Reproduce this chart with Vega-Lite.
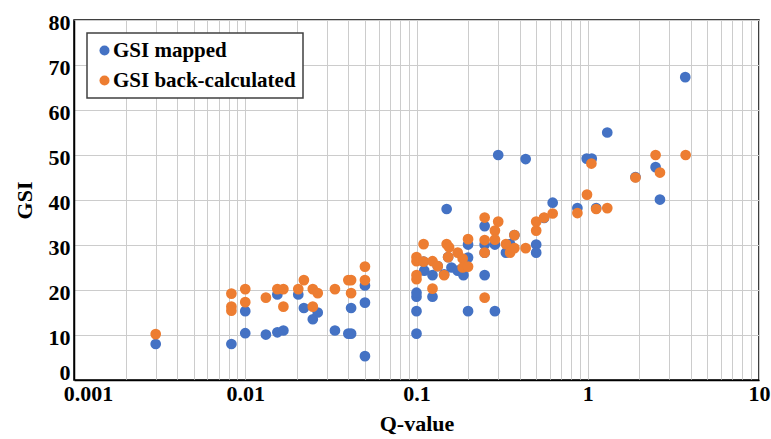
{
  "$schema": "https://vega.github.io/schema/vega-lite/v6.json",
  "width": 685,
  "height": 360,
  "padding": {"left": 74, "top": 20, "right": 12, "bottom": 59},
  "autosize": {"type": "none"},
  "background": "#ffffff",
  "config": {
    "view": {"stroke": "#000000", "strokeWidth": 1.5},
    "font": "Liberation Serif"
  },
  "data": {
    "values": [
      {"q": 0.003, "gsi": 8, "series": "GSI mapped"},
      {"q": 0.0083, "gsi": 8, "series": "GSI mapped"},
      {"q": 0.01, "gsi": 15.3, "series": "GSI mapped"},
      {"q": 0.01, "gsi": 10.4, "series": "GSI mapped"},
      {"q": 0.0132, "gsi": 10.1, "series": "GSI mapped"},
      {"q": 0.0154, "gsi": 19, "series": "GSI mapped"},
      {"q": 0.0154, "gsi": 10.6, "series": "GSI mapped"},
      {"q": 0.0167, "gsi": 11, "series": "GSI mapped"},
      {"q": 0.0204, "gsi": 19, "series": "GSI mapped"},
      {"q": 0.022, "gsi": 16, "series": "GSI mapped"},
      {"q": 0.0248, "gsi": 13.5, "series": "GSI mapped"},
      {"q": 0.0265, "gsi": 15, "series": "GSI mapped"},
      {"q": 0.0334, "gsi": 11, "series": "GSI mapped"},
      {"q": 0.0415, "gsi": 16, "series": "GSI mapped"},
      {"q": 0.04, "gsi": 10.3, "series": "GSI mapped"},
      {"q": 0.0415, "gsi": 10.3, "series": "GSI mapped"},
      {"q": 0.05, "gsi": 21, "series": "GSI mapped"},
      {"q": 0.05, "gsi": 17.2, "series": "GSI mapped"},
      {"q": 0.05, "gsi": 5.3, "series": "GSI mapped"},
      {"q": 0.1, "gsi": 10.3, "series": "GSI mapped"},
      {"q": 0.1, "gsi": 15.3, "series": "GSI mapped"},
      {"q": 0.1, "gsi": 18.5, "series": "GSI mapped"},
      {"q": 0.1, "gsi": 19.4, "series": "GSI mapped"},
      {"q": 0.11, "gsi": 26.3, "series": "GSI mapped"},
      {"q": 0.111, "gsi": 24.3, "series": "GSI mapped"},
      {"q": 0.124, "gsi": 23.3, "series": "GSI mapped"},
      {"q": 0.124, "gsi": 18.5, "series": "GSI mapped"},
      {"q": 0.133, "gsi": 25.3, "series": "GSI mapped"},
      {"q": 0.145, "gsi": 23.5, "series": "GSI mapped"},
      {"q": 0.15, "gsi": 38, "series": "GSI mapped"},
      {"q": 0.153, "gsi": 27.3, "series": "GSI mapped"},
      {"q": 0.16, "gsi": 25, "series": "GSI mapped"},
      {"q": 0.174, "gsi": 24.3, "series": "GSI mapped"},
      {"q": 0.188, "gsi": 23.3, "series": "GSI mapped"},
      {"q": 0.2, "gsi": 30.1, "series": "GSI mapped"},
      {"q": 0.2, "gsi": 27.2, "series": "GSI mapped"},
      {"q": 0.2, "gsi": 15.3, "series": "GSI mapped"},
      {"q": 0.25, "gsi": 34.2, "series": "GSI mapped"},
      {"q": 0.25, "gsi": 30.1, "series": "GSI mapped"},
      {"q": 0.25, "gsi": 28.3, "series": "GSI mapped"},
      {"q": 0.25, "gsi": 23.3, "series": "GSI mapped"},
      {"q": 0.287, "gsi": 30.1, "series": "GSI mapped"},
      {"q": 0.287, "gsi": 15.3, "series": "GSI mapped"},
      {"q": 0.3, "gsi": 50, "series": "GSI mapped"},
      {"q": 0.333, "gsi": 28.3, "series": "GSI mapped"},
      {"q": 0.352, "gsi": 30.2, "series": "GSI mapped"},
      {"q": 0.373, "gsi": 32.2, "series": "GSI mapped"},
      {"q": 0.434, "gsi": 49.1, "series": "GSI mapped"},
      {"q": 0.5, "gsi": 30.1, "series": "GSI mapped"},
      {"q": 0.5, "gsi": 28.3, "series": "GSI mapped"},
      {"q": 0.556, "gsi": 36, "series": "GSI mapped"},
      {"q": 0.624, "gsi": 39.4, "series": "GSI mapped"},
      {"q": 0.87, "gsi": 38.2, "series": "GSI mapped"},
      {"q": 0.986, "gsi": 49.2, "series": "GSI mapped"},
      {"q": 1.055, "gsi": 49.2, "series": "GSI mapped"},
      {"q": 1.12, "gsi": 38.2, "series": "GSI mapped"},
      {"q": 1.3, "gsi": 55, "series": "GSI mapped"},
      {"q": 1.9, "gsi": 45.1, "series": "GSI mapped"},
      {"q": 2.49, "gsi": 47.3, "series": "GSI mapped"},
      {"q": 2.64, "gsi": 40.1, "series": "GSI mapped"},
      {"q": 3.71, "gsi": 67.3, "series": "GSI mapped"},
      {"q": 0.003, "gsi": 10.2, "series": "GSI back-calculated"},
      {"q": 0.0083, "gsi": 19.2, "series": "GSI back-calculated"},
      {"q": 0.0083, "gsi": 16.3, "series": "GSI back-calculated"},
      {"q": 0.0083, "gsi": 15.4, "series": "GSI back-calculated"},
      {"q": 0.01, "gsi": 20.2, "series": "GSI back-calculated"},
      {"q": 0.01, "gsi": 17.3, "series": "GSI back-calculated"},
      {"q": 0.0132, "gsi": 18.3, "series": "GSI back-calculated"},
      {"q": 0.0154, "gsi": 20.2, "series": "GSI back-calculated"},
      {"q": 0.0167, "gsi": 20.2, "series": "GSI back-calculated"},
      {"q": 0.0167, "gsi": 16.3, "series": "GSI back-calculated"},
      {"q": 0.0204, "gsi": 20.2, "series": "GSI back-calculated"},
      {"q": 0.022, "gsi": 22.2, "series": "GSI back-calculated"},
      {"q": 0.0248, "gsi": 20.2, "series": "GSI back-calculated"},
      {"q": 0.0265, "gsi": 19.3, "series": "GSI back-calculated"},
      {"q": 0.0248, "gsi": 16.3, "series": "GSI back-calculated"},
      {"q": 0.0334, "gsi": 20.2, "series": "GSI back-calculated"},
      {"q": 0.04, "gsi": 22.2, "series": "GSI back-calculated"},
      {"q": 0.0415, "gsi": 22.2, "series": "GSI back-calculated"},
      {"q": 0.0415, "gsi": 19.3, "series": "GSI back-calculated"},
      {"q": 0.05, "gsi": 25.2, "series": "GSI back-calculated"},
      {"q": 0.05, "gsi": 22.2, "series": "GSI back-calculated"},
      {"q": 0.1, "gsi": 22.4, "series": "GSI back-calculated"},
      {"q": 0.1, "gsi": 23.3, "series": "GSI back-calculated"},
      {"q": 0.1, "gsi": 26.4, "series": "GSI back-calculated"},
      {"q": 0.1, "gsi": 27.3, "series": "GSI back-calculated"},
      {"q": 0.11, "gsi": 30.2, "series": "GSI back-calculated"},
      {"q": 0.11, "gsi": 26.3, "series": "GSI back-calculated"},
      {"q": 0.124, "gsi": 26.4, "series": "GSI back-calculated"},
      {"q": 0.124, "gsi": 20.3, "series": "GSI back-calculated"},
      {"q": 0.133, "gsi": 25.3, "series": "GSI back-calculated"},
      {"q": 0.145, "gsi": 23.3, "series": "GSI back-calculated"},
      {"q": 0.15, "gsi": 30.2, "series": "GSI back-calculated"},
      {"q": 0.155, "gsi": 29.5, "series": "GSI back-calculated"},
      {"q": 0.153, "gsi": 27.3, "series": "GSI back-calculated"},
      {"q": 0.174, "gsi": 28.3, "series": "GSI back-calculated"},
      {"q": 0.186, "gsi": 27, "series": "GSI back-calculated"},
      {"q": 0.186, "gsi": 25, "series": "GSI back-calculated"},
      {"q": 0.2, "gsi": 31.3, "series": "GSI back-calculated"},
      {"q": 0.2, "gsi": 25.2, "series": "GSI back-calculated"},
      {"q": 0.25, "gsi": 36.1, "series": "GSI back-calculated"},
      {"q": 0.25, "gsi": 31.1, "series": "GSI back-calculated"},
      {"q": 0.25, "gsi": 28.3, "series": "GSI back-calculated"},
      {"q": 0.25, "gsi": 18.3, "series": "GSI back-calculated"},
      {"q": 0.3, "gsi": 35.2, "series": "GSI back-calculated"},
      {"q": 0.287, "gsi": 33.2, "series": "GSI back-calculated"},
      {"q": 0.287, "gsi": 31.2, "series": "GSI back-calculated"},
      {"q": 0.333, "gsi": 30.2, "series": "GSI back-calculated"},
      {"q": 0.352, "gsi": 28.3, "series": "GSI back-calculated"},
      {"q": 0.373, "gsi": 32.2, "series": "GSI back-calculated"},
      {"q": 0.373, "gsi": 29.3, "series": "GSI back-calculated"},
      {"q": 0.434, "gsi": 29.3, "series": "GSI back-calculated"},
      {"q": 0.5, "gsi": 33.2, "series": "GSI back-calculated"},
      {"q": 0.5, "gsi": 35.2, "series": "GSI back-calculated"},
      {"q": 0.556, "gsi": 36.1, "series": "GSI back-calculated"},
      {"q": 0.624, "gsi": 37, "series": "GSI back-calculated"},
      {"q": 0.87, "gsi": 37.1, "series": "GSI back-calculated"},
      {"q": 0.99, "gsi": 41.2, "series": "GSI back-calculated"},
      {"q": 1.05, "gsi": 48.1, "series": "GSI back-calculated"},
      {"q": 1.12, "gsi": 38, "series": "GSI back-calculated"},
      {"q": 1.3, "gsi": 38.2, "series": "GSI back-calculated"},
      {"q": 1.9, "gsi": 45, "series": "GSI back-calculated"},
      {"q": 2.49, "gsi": 50, "series": "GSI back-calculated"},
      {"q": 2.64, "gsi": 46.1, "series": "GSI back-calculated"},
      {"q": 3.73, "gsi": 50, "series": "GSI back-calculated"}
    ]
  },
  "mark": {"type": "point", "filled": true, "opacity": 1, "size": 115, "shape": "circle"},
  "encoding": {
    "x": {
      "field": "q",
      "type": "quantitative",
      "scale": {"type": "log", "domain": [0.001, 10], "nice": false},
      "axis": {
        "title": "Q-value",
        "values": [0.001, 0.002, 0.003, 0.004, 0.005, 0.006, 0.007, 0.008, 0.009, 0.01, 0.02, 0.03, 0.04, 0.05, 0.06, 0.07, 0.08, 0.09, 0.1, 0.2, 0.3, 0.4, 0.5, 0.6, 0.7, 0.8, 0.9, 1, 2, 3, 4, 5, 6, 7, 8, 9, 10],
        "labelExpr": "abs(log(datum.value)/LN10 - round(log(datum.value)/LN10)) < 0.001 ? format(datum.value, '~g') : ''",
        "labelOffset": {"condition": {"test": "datum.value < 0.0015", "value": 14}, "value": 0},
        "labelOverlap": false,
        "labelFlush": false,
        "labelFont": "Liberation Serif",
        "labelFontSize": 22,
        "labelFontWeight": "bold",
        "labelColor": "#000000",
        "labelPadding": 3,
        "titleFont": "Liberation Serif",
        "titleFontSize": 22,
        "titleFontWeight": "bold",
        "titleColor": "#000000",
        "titlePadding": 9,
        "ticks": false,
        "domainColor": "#000000",
        "domainWidth": 1.5,
        "grid": true,
        "gridColor": "#cccccc",
        "gridWidth": 1
      }
    },
    "y": {
      "field": "gsi",
      "type": "quantitative",
      "scale": {"domain": [0, 80], "nice": false, "zero": true},
      "axis": {
        "title": "GSI",
        "values": [0, 10, 20, 30, 40, 50, 60, 70, 80],
        "labelOffset": {"condition": {"test": "datum.value == 0", "value": -8}, "value": 2},
        "labelFont": "Liberation Serif",
        "labelFontSize": 22,
        "labelFontWeight": "bold",
        "labelColor": "#000000",
        "labelPadding": 4,
        "labelFlush": false,
        "titleFont": "Liberation Serif",
        "titleFontSize": 22,
        "titleFontWeight": "bold",
        "titleColor": "#000000",
        "titlePadding": 12,
        "ticks": false,
        "domainColor": "#000000",
        "domainWidth": 1.5,
        "grid": true,
        "gridColor": "#cccccc",
        "gridWidth": 1
      }
    },
    "color": {
      "field": "series",
      "type": "nominal",
      "sort": null,
      "scale": {"domain": ["GSI mapped", "GSI back-calculated"], "range": ["#4472C4", "#ED7D31"]},
      "legend": {
        "title": null,
        "orient": "none",
        "legendX": 13,
        "legendY": 13,
        "padding": 7,
        "fillColor": "#ffffff",
        "strokeColor": "#404040",
        "symbolType": "circle",
        "symbolSize": 100,
        "symbolOpacity": 1,
        "labelFont": "Liberation Serif",
        "labelFontSize": 21,
        "labelFontWeight": "bold",
        "labelColor": "#000000",
        "labelOffset": -2,
        "rowPadding": 8,
        "labelLimit": 400,
        "encode": {"legend": {"update": {"strokeWidth": {"value": 1.5}}}}
      }
    }
  }
}
